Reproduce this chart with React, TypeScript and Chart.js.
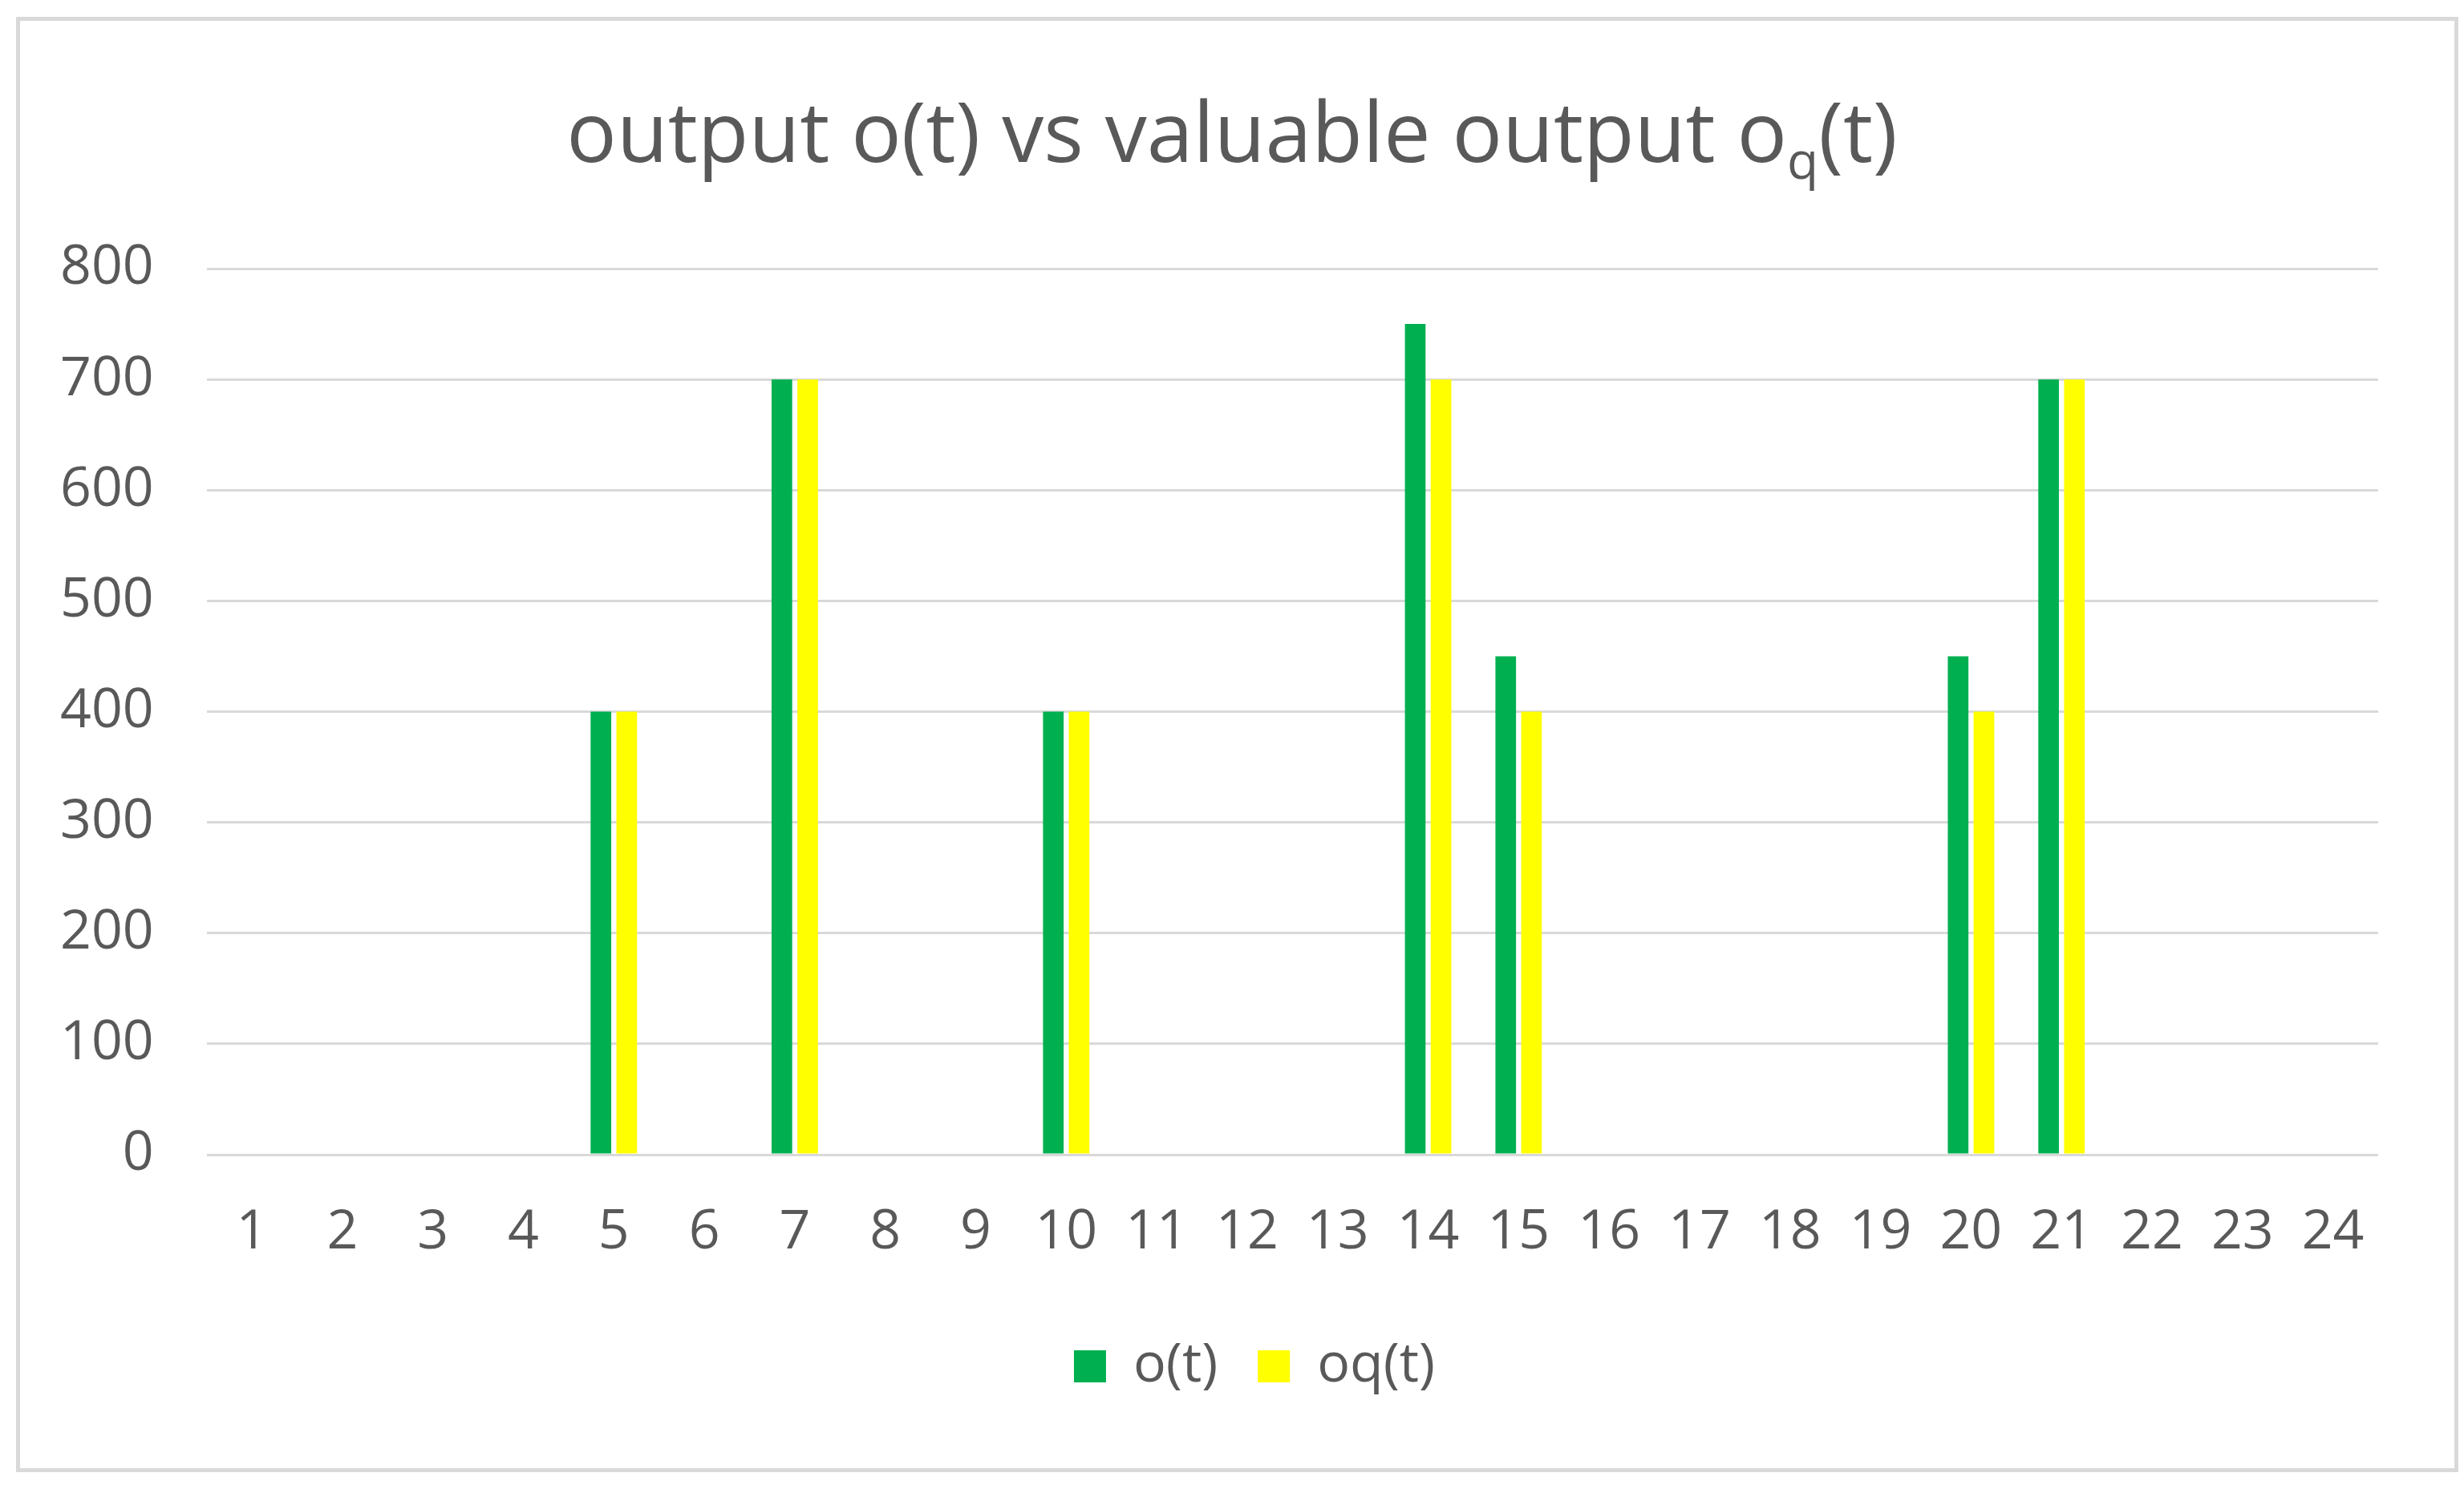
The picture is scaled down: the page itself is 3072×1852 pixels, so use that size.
import React, { useEffect, useRef } from "react";
import { Chart, registerables } from "chart.js";

Chart.register(...registerables);

const categories = ["1", "2", "3", "4", "5", "6", "7", "8", "9", "10", "11", "12", "13", "14", "15", "16", "17", "18", "19", "20", "21", "22", "23", "24"];
const oValues = [0, 0, 0, 0, 400, 0, 700, 0, 0, 400, 0, 0, 0, 750, 450, 0, 0, 0, 0, 450, 700, 0, 0, 0];
const oqValues = [0, 0, 0, 0, 400, 0, 700, 0, 0, 400, 0, 0, 0, 700, 400, 0, 0, 0, 0, 400, 700, 0, 0, 0];
const seriesLabels = ["o(t)", "oq(t)"];
const yMin = 0;
const yMax = 800;
const yStep = 100;
const titleMain = "output o(t) vs valuable output o";
const titleSub = "q";
const titleEnd = "(t)";

const FONT = '"Open Sans", "Noto Sans", sans-serif';
const TEXT_COLOR = "#595959";
const GRID_COLOR = "#d9d9d9";
const TITLE_SIZE = 104;
const TICK_SIZE = 68;
const PAD_LEFT = 9;
const LEGEND_SHIFT = 77;

const titlePlugin = {
  id: "subscriptTitle",
  afterDraw(chart: any) {
    const ctx = chart.ctx as CanvasRenderingContext2D;
    ctx.save();
    const big = `${TITLE_SIZE}px ${FONT}`;
    const small = `${Math.round(TITLE_SIZE * 0.62)}px ${FONT}`;
    ctx.font = big;
    const w1 = ctx.measureText(titleMain).width;
    const w3 = ctx.measureText(titleEnd).width;
    ctx.font = small;
    const w2 = ctx.measureText(titleSub).width;
    const total = w1 + w2 + w3;
    let x = chart.width / 2 - total / 2;
    const y = 202;
    ctx.fillStyle = TEXT_COLOR;
    ctx.textAlign = "left";
    ctx.textBaseline = "alphabetic";
    ctx.font = big;
    ctx.fillText(titleMain, x, y);
    x += w1;
    ctx.font = small;
    ctx.fillText(titleSub, x, y + TITLE_SIZE * 0.2);
    x += w2;
    ctx.font = big;
    ctx.fillText(titleEnd, x, y);
    ctx.restore();
  },
};

const legendShiftPlugin = {
  id: "legendShift",
  afterLayout(chart: any) {
    if (chart.legend) {
      chart.legend.left += LEGEND_SHIFT;
      chart.legend.right += LEGEND_SHIFT;
    }
  },
};

export default function App() {
  const canvasRef = useRef<HTMLCanvasElement | null>(null);

  useEffect(() => {
    if (!canvasRef.current) return;
    const chart = new Chart(canvasRef.current, {
      type: "bar",
      data: {
        labels: categories,
        datasets: [
          {
            label: seriesLabels[0],
            data: oValues,
            backgroundColor: "#00B050",
            borderWidth: 0,
            categoryPercentage: 0.57,
            barPercentage: 0.8,
          },
          {
            label: seriesLabels[1],
            data: oqValues,
            backgroundColor: "#FFFF00",
            borderWidth: 0,
            categoryPercentage: 0.57,
            barPercentage: 0.8,
          },
        ],
      },
      options: {
        responsive: false,
        animation: false,
        devicePixelRatio: 1,
        layout: {
          padding: { left: PAD_LEFT, right: 107, top: 335, bottom: 104 },
        },
        plugins: {
          title: { display: false },
          tooltip: { enabled: false },
          legend: {
            display: true,
            position: "bottom",
            labels: {
              color: TEXT_COLOR,
              font: { family: FONT, size: TICK_SIZE },
              boxWidth: 40,
              boxHeight: 40,
              padding: 50,
            },
          },
        },
        scales: {
          x: {
            grid: { display: false, drawTicks: false },
            border: { display: false },
            ticks: {
              color: TEXT_COLOR,
              font: { family: FONT, size: TICK_SIZE },
              padding: 57,
              maxRotation: 0,
              autoSkip: false,
            },
            afterFit: (scale: any) => {
              scale.height = 180;
            },
          },
          y: {
            min: yMin,
            max: yMax,
            grid: { color: GRID_COLOR, lineWidth: 3, drawTicks: false },
            border: { display: false },
            ticks: {
              stepSize: yStep,
              color: TEXT_COLOR,
              font: { family: FONT, size: TICK_SIZE },
              padding: 66,
            },
          },
        },
      },
      plugins: [titlePlugin, legendShiftPlugin],
    });
    return () => chart.destroy();
  }, []);

  return (
    <div style={{ position: "fixed", left: 0, top: 0, width: 3072, height: 1852, background: "#fff" }}>
      <canvas ref={canvasRef} width={3072} height={1852} style={{ width: 3072, height: 1852, display: "block" }} />
      <div
        style={{
          position: "absolute",
          left: 20,
          top: 21,
          width: 3045,
          height: 1815,
          border: "5px solid #d9d9d9",
          boxSizing: "border-box",
          pointerEvents: "none",
        }}
      />
    </div>
  );
}
